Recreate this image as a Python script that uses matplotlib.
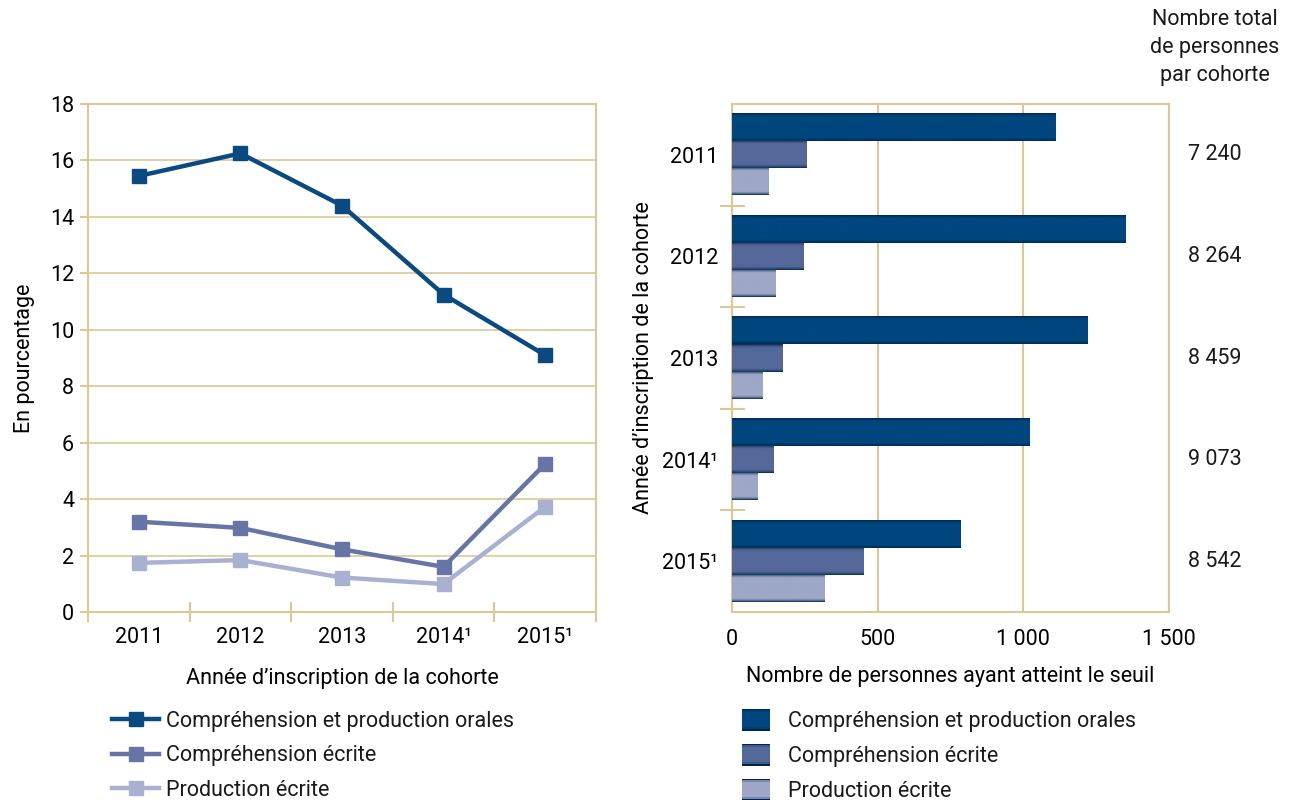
import numpy as np
import matplotlib
matplotlib.use('Agg')
import matplotlib.pyplot as plt
from matplotlib.patches import Rectangle
from matplotlib.legend_handler import HandlerBase
import matplotlib.transforms as mtransforms

plt.rcParams['font.family'] = ['Roboto', 'DejaVu Sans']
plt.rcParams['text.color'] = '#1a1a1a'

# data
years = ['2011', '2012', '2013', '2014¹', '2015¹']
series_names = ['Compréhension et production orales', 'Compréhension écrite', 'Production écrite']

pct_orales = [15.45, 16.25, 14.4, 11.25, 9.1]
pct_comp_ecrite = [3.2, 2.98, 2.22, 1.6, 5.25]
pct_prod_ecrite = [1.74, 1.84, 1.22, 0.99, 3.73]

nb_orales = [1110, 1350, 1220, 1020, 783]
nb_comp_ecrite = [257, 244, 175, 144, 453]
nb_prod_ecrite = [127, 151, 106, 86, 316]

totals = [7240, 8264, 8459, 9073, 8542]

line_colors = ['#0b4a80', '#6675a6', '#a9b1d1']
bar_colors = ['#00467f', '#55689a', '#9ea7c7']
grid_col = '#dcc895'
fs = 15.5


def gradient_rgb(color, n=60):
    base = np.array(matplotlib.colors.to_rgb(color))
    dark = np.array([0.0, 0.15, 0.30])
    t = np.linspace(0, 1, n)
    d = np.minimum(t, 1 - t)
    s = np.clip(d / 0.12, 0, 1) ** 0.6
    rgb = dark[None, :] * (1 - s[:, None]) + base[None, :] * s[:, None]
    return rgb[:, None, :]


class GradHandler(HandlerBase):
    def create_artists(self, legend, orig_handle, xdescent, ydescent, width, height, fontsize, trans):
        rgb = gradient_rgb(orig_handle.get_facecolor(), 14)[:, 0, :]
        arts = []
        n = len(rgb)
        for k in range(n):
            r = Rectangle((-xdescent, -ydescent + height * (n - 1 - k) / n), width, height / n + 0.3,
                          facecolor=rgb[k], edgecolor='none', transform=trans)
            arts.append(r)
        return arts


fig = plt.figure(figsize=(13, 8), dpi=100)

# ---------------- left: lines
ax1 = fig.add_axes([88 / 1300, 1 - 612 / 800, 508 / 1300, 508 / 800])
x = np.arange(len(years))
handles1 = []
for vals, col, name in zip([pct_orales, pct_comp_ecrite, pct_prod_ecrite], line_colors, series_names):
    h, = ax1.plot(x, vals, color=col, lw=3.2, marker='s', markersize=10, label=name, zorder=3)
    handles1.append(h)

ax1.set_xlim(-0.5, 4.5)
ax1.set_ylim(0, 18)
ax1.set_yticks(np.arange(0, 19, 2))
ax1.set_xticks(x)
ax1.set_xticklabels(years)
ax1.set_xticks(np.arange(-0.5, 5, 1), minor=True)
ax1.tick_params(axis='x', which='major', length=0, labelsize=fs, pad=11)
ax1.tick_params(axis='x', which='minor', length=14, direction='inout', color=grid_col, width=1.5)
ax1.tick_params(axis='y', length=6, direction='out', color=grid_col, width=1.5, labelsize=fs, pad=4)
ax1.grid(axis='y', color=grid_col, lw=1.2)
for sp in ax1.spines.values():
    sp.set_color(grid_col)
    sp.set_linewidth(1.5)
ax1.set_ylabel('En pourcentage', fontsize=fs, labelpad=11)
ax1.set_xlabel('Année d’inscription de la cohorte', fontsize=fs, labelpad=14)

fig.legend(handles=handles1, loc='upper left', bbox_to_anchor=(112 / 1300, 1 - 711 / 800),
           frameon=False, fontsize=fs, handlelength=2.2, handletextpad=0.3, labelspacing=0.62,
           borderpad=0, borderaxespad=0)

# ---------------- right: bars
ax2 = fig.add_axes([732 / 1300, 1 - 612 / 800, 437 / 1300, 508 / 800])
bh = 0.8 / 3
handles2 = []
for j, (vals, col, name) in enumerate(zip([nb_orales, nb_comp_ecrite, nb_prod_ecrite], bar_colors, series_names)):
    grad = gradient_rgb(col)
    for i, v in enumerate(vals):
        yc = i + (j - 1) * bh
        ax2.imshow(grad, extent=[0, v, yc - bh / 2, yc + bh / 2], aspect='auto', zorder=3,
                   interpolation='bilinear')
    handles2.append(Rectangle((0, 0), 1, 1, facecolor=col, label=name))

ax2.set_xlim(0, 1500)
ax2.set_ylim(4.5, -0.5)
ax2.set_xticks([0, 500, 1000, 1500])
ax2.set_xticklabels(['0', '500', '1 000', '1 500'])
ax2.set_yticks(np.arange(len(years)))
ax2.set_yticklabels(years)
ax2.set_yticks(np.arange(0.5, 4, 1), minor=True)
ax2.tick_params(axis='y', which='major', length=0, labelsize=fs, pad=10)
ax2.tick_params(axis='y', which='minor', length=18, direction='inout', color=grid_col, width=1.5)
ax2.tick_params(axis='x', length=0, labelsize=fs, pad=12)
ax2.grid(axis='x', color=grid_col, lw=1.5, zorder=0)
ax2.set_axisbelow(True)
for sp in ax2.spines.values():
    sp.set_color(grid_col)
    sp.set_linewidth(1.5)
ax2.set_ylabel('Année d’inscription de la cohorte', fontsize=fs, labelpad=6)
ax2.set_xlabel('Nombre de personnes ayant atteint le seuil', fontsize=fs, labelpad=12)

trans = mtransforms.blended_transform_factory(ax2.transAxes, ax2.transData)
for i, t in enumerate(totals):
    ax2.text(1.105, i, '{:,}'.format(t).replace(',', ' '), transform=trans, ha='center', va='center',
             fontsize=fs)
fig.text(1215 / 1300, 1 - 9 / 800, 'Nombre total\nde personnes\npar cohorte', ha='center', va='top',
         fontsize=fs, linespacing=1.45)

fig.legend(handles=handles2, loc='upper left', bbox_to_anchor=(742 / 1300, 1 - 709 / 800),
           frameon=False, fontsize=fs, handlelength=1.3, handleheight=1.16, handletextpad=0.84,
           labelspacing=0.56, borderpad=0, borderaxespad=0,
           handler_map={Rectangle: GradHandler()})

fig.savefig('out.png', dpi=100)
